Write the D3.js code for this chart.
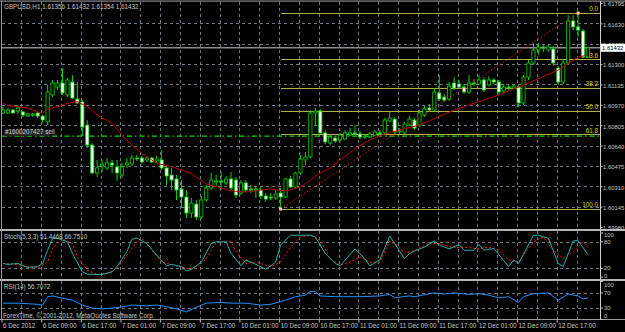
<!DOCTYPE html>
<html>
<head>
<meta charset="utf-8">
<script src="https://d3js.org/d3.v7.min.js"></script>
<style>
  body { margin: 0; background: #000; }
  svg { display: block; }
  text { font-family: "Liberation Sans", Arial, sans-serif; font-size: 6.3px; fill: #c8c8c8; }
  .axis text { font-size: 5.9px; }
</style>
</head>
<body>
<script>
// GBPUSD H1 bars, 6 Dec 01:00 .. 12 Dec 22:00
var opens = [1.60904,1.60904,1.60928,1.60920,1.60912,1.60879,1.60887,1.60904,1.60879,1.60831,
  1.61050,1.61114,1.61147,1.61050,1.61155,1.61017,1.60993,1.60806,1.60644,1.60418,
  1.60474,1.60458,1.60499,1.60466,1.60401,1.60482,1.60490,1.60539,1.60539,1.60523,
  1.60539,1.60515,1.60523,1.60458,1.60401,1.60369,1.60288,1.60223,1.60093,1.60166,
  1.60061,1.60199,1.60296,1.60345,1.60353,1.60337,1.60369,1.60361,1.60255,1.60337,
  1.60288,1.60280,1.60280,1.60231,1.60223,1.60215,1.60255,1.60223,1.60369,1.60304,
  1.60418,1.60523,1.60547,1.60904,1.60920,1.60742,1.60661,1.60701,1.60685,1.60693,
  1.60725,1.60742,1.60734,1.60709,1.60709,1.60725,1.60742,1.60742,1.60839,1.60855,
  1.60750,1.60742,1.60806,1.60847,1.60806,1.60887,1.60944,1.60928,1.61066,1.61033,
  1.61017,1.61147,1.61139,1.61114,1.61074,1.61147,1.61139,1.61171,1.61131,1.61171,
  1.61155,1.61082,1.61114,1.61106,1.61114,1.60985,1.61195,1.61309,1.61414,1.61438,
  1.61414,1.61422,1.61268,1.61155,1.61309,1.61649,1.61601,1.61568,1.61356];
var highs = [1.60952,1.60944,1.60936,1.60969,1.60920,1.60904,1.60904,1.60912,1.60887,1.61131,
  1.61171,1.61171,1.61268,1.61187,1.61212,1.61155,1.61009,1.60847,1.60661,1.60523,
  1.60523,1.60539,1.60523,1.60523,1.60499,1.60539,1.60563,1.60563,1.60555,1.60555,
  1.60547,1.60555,1.60604,1.60482,1.60458,1.60401,1.60361,1.60280,1.60215,1.60199,
  1.60231,1.60320,1.60418,1.60401,1.60426,1.60393,1.60426,1.60385,1.60361,1.60361,
  1.60320,1.60312,1.60312,1.60255,1.60255,1.60280,1.60296,1.60377,1.60393,1.60426,
  1.60563,1.60588,1.60928,1.60944,1.60936,1.60766,1.60725,1.60717,1.60742,1.60766,
  1.60782,1.60806,1.60758,1.60734,1.60750,1.60766,1.60766,1.60863,1.60912,1.60871,
  1.60782,1.60831,1.60879,1.60863,1.60928,1.60960,1.60977,1.61106,1.61212,1.61058,
  1.61155,1.61195,1.61171,1.61139,1.61212,1.61179,1.61212,1.61195,1.61203,1.61187,
  1.61171,1.61139,1.61139,1.61139,1.61131,1.61212,1.61333,1.61471,1.61471,1.61463,
  1.61463,1.61447,1.61285,1.61333,1.61698,1.61698,1.61714,1.61584,1.61432];
var lows = [1.60896,1.60896,1.60896,1.60896,1.60871,1.60871,1.60871,1.60863,1.60823,1.60806,
  1.61033,1.61090,1.61050,1.61033,1.61017,1.60977,1.60717,1.60620,1.60409,1.60385,
  1.60426,1.60442,1.60418,1.60353,1.60377,1.60458,1.60474,1.60515,1.60490,1.60507,
  1.60499,1.60499,1.60442,1.60320,1.60280,1.60199,1.60134,1.60053,1.60053,1.60037,
  1.60045,1.60183,1.60280,1.60312,1.60280,1.60320,1.60280,1.60215,1.60239,1.60263,
  1.60255,1.60215,1.60207,1.60183,1.60199,1.60199,1.60126,1.60215,1.60296,1.60288,
  1.60401,1.60482,1.60539,1.60806,1.60734,1.60653,1.60644,1.60661,1.60669,1.60685,
  1.60717,1.60725,1.60693,1.60693,1.60701,1.60717,1.60725,1.60734,1.60831,1.60734,
  1.60734,1.60734,1.60798,1.60766,1.60790,1.60871,1.60912,1.60912,1.61001,1.60993,
  1.61001,1.61090,1.61098,1.61058,1.61058,1.61122,1.61131,1.61074,1.61122,1.61139,
  1.61058,1.61066,1.61090,1.61098,1.60952,1.60969,1.61171,1.61293,1.61374,1.61398,
  1.61398,1.61285,1.61131,1.61139,1.61293,1.61576,1.61519,1.61349,1.61354];
var closes = [1.60928,1.60928,1.60904,1.60944,1.60887,1.60896,1.60896,1.60879,1.60847,1.61074,
  1.61147,1.61147,1.61066,1.61171,1.61025,1.60985,1.60790,1.60644,1.60418,1.60458,
  1.60490,1.60499,1.60482,1.60418,1.60466,1.60499,1.60539,1.60531,1.60507,1.60539,
  1.60507,1.60531,1.60458,1.60393,1.60361,1.60280,1.60223,1.60093,1.60174,1.60061,
  1.60199,1.60296,1.60361,1.60353,1.60345,1.60369,1.60296,1.60239,1.60337,1.60280,
  1.60280,1.60288,1.60231,1.60207,1.60215,1.60247,1.60223,1.60369,1.60304,1.60418,
  1.60531,1.60547,1.60904,1.60920,1.60742,1.60669,1.60709,1.60677,1.60725,1.60742,
  1.60742,1.60734,1.60709,1.60717,1.60734,1.60750,1.60734,1.60847,1.60863,1.60750,
  1.60758,1.60815,1.60855,1.60782,1.60904,1.60936,1.60928,1.61074,1.61017,1.61009,
  1.61122,1.61106,1.61114,1.61074,1.61147,1.61139,1.61171,1.61090,1.61171,1.61155,
  1.61074,1.61114,1.61106,1.61122,1.60985,1.61195,1.61309,1.61414,1.61438,1.61430,
  1.61438,1.61309,1.61155,1.61309,1.61649,1.61601,1.61576,1.61357,1.61432];

// moving average, read at some bars
var maBars = [0,1,3,5,7,8,9,11,13,15,17,19,22,24,26,28,31,34,38,41,44,46,49,52,54,57,60,62,64,66,68,71,74,77,80,84,91,100,106,112,116,118];
var maValues = [1.60982,1.60963,1.60955,1.60942,1.60914,1.60901,1.60934,1.60955,1.60982,1.60995,
  1.60955,1.60888,1.60820,1.60725,1.60644,1.60577,1.60496,1.60469,1.60415,1.60328,
  1.60296,1.60272,1.60263,1.60280,1.60288,1.60272,1.60304,1.60361,1.60418,1.60458,
  1.60523,1.60612,1.60685,1.60734,1.60766,1.60806,1.60928,1.61050,1.61147,1.61252,
  1.61357,1.61374];

// Stochastic (5,3,3)
var stochMainBars = [0,1,3,5,7,8,9,10,11,13,14,16,17,20,22,23,25,26,27,29,31,33,34,36,37,38,40,42,43,45,
  46,48,49,51,53,55,56,58,60,62,63,65,67,68,71,73,74,76,78,79,81,82,84,85,87,88,90,92,93,95,
  96,97,99,102,103,104,107,108,110,112,113,115,116,118];
var stochMainValues = [31,29,31,22,24,31,61,88,88,80,54,12,7,6,12,24,58,86,89,76,50,26,29,24,14,18,34,76,80,80,
  54,26,39,29,18,34,73,95,95,95,91,54,31,26,64,42,26,39,93,76,42,54,64,68,82,73,64,74,61,61,
  74,61,65,24,39,31,95,95,88,31,24,82,83,51];
var stochSignalBars = [0,2,5,7,9,10,12,14,15,17,19,21,23,25,27,28,30,32,35,37,39,41,43,46,47,49,51,54,56,58,
  60,62,64,66,68,70,72,74,76,78,80,81,83,86,88,91,93,96,98,100,102,104,107,109,111,113,115,117,118];
var stochSignalValues = [31,30,24,21,34,65,86,76,46,16,6,9,20,50,80,88,61,34,26,20,20,42,80,80,58,31,34,24,34,68,
  91,95,83,42,27,34,46,34,34,82,68,54,61,76,76,67,68,64,68,61,39,34,80,91,61,42,58,80,67];

// RSI(14)
var rsiBars = [0,3,7,8,9,10,12,14,16,18,20,22,24,26,29,31,33,35,37,39,41,44,46,49,52,54,56,57,59,61,
  62,63,64,67,72,76,78,79,82,83,87,89,91,94,96,98,100,102,104,105,107,110,112,114,116,117,118];
var rsiValues = [43,43,40,38,60,62,56,51,38,30,28,30,33,38,36,38,34,28,20,32,43,45,43,43,38,40,47,51,60,64,
  74,73,62,60,60,62,66,57,62,60,70,67,70,66,68,64,57,60,45,60,68,70,51,67,62,54,57];

var priceTicks = [1.61795,1.61630,1.61465,1.61300,1.61135,1.60970,1.60805,1.60640,1.60475,1.60310,1.60145,1.59980];
var timeLabels = ["6 Dec 2012","6 Dec 09:00","6 Dec 17:00","7 Dec 01:00","7 Dec 09:00","7 Dec 17:00",
  "10 Dec 01:00","10 Dec 09:00","10 Dec 17:00","11 Dec 01:00","11 Dec 09:00","11 Dec 17:00",
  "12 Dec 01:00","12 Dec 09:00","12 Dec 17:00"];
var timeLabelBars = [0,8,16,24,32,40,48,56,64,72,80,88,96,104,112];

var fibLevels = [0.0, 23.6, 38.2, 50.0, 61.8, 100.0];
var fibHigh = 1.61714, fibHighBar = 116;
var fibLow = 1.60126, fibLowBar = 56;
var bidPrice = 1.61432;
var orderPrice = 1.60717, orderLabel = "#1600207427 sell";
var stochLevels = [100, 80, 20, 0], rsiLevels = [100, 70, 30, 0];

var W = 625, H = 332, plotL = 2, plotR = 600;
var mainP = {top: 2, bottom: 228.5}, stochP = {top: 231, bottom: 278.5}, rsiP = {top: 281, bottom: 319};

var svg = d3.select("body").append("svg")
    .attr("width", W)
    .attr("height", H);
svg.append("rect").attr("width", W).attr("height", H).attr("fill", "#000");

var x = d3.scaleLinear().domain([0, 118]).range([3, 588]);
var y = d3.scaleLinear().domain([1.59980, 1.61795]).range([227, 3]);
var yStoch = d3.scaleLinear().domain([0, 100]).range([277.2, 233]);
var yRsi = d3.scaleLinear().domain([0, 100]).range([319.5, 281.5]);

var defs = svg.append("defs");
[["clipMain", mainP], ["clipStoch", stochP], ["clipRsi", rsiP]].forEach(function(c) {
    defs.append("clipPath").attr("id", c[0]).append("rect")
        .attr("x", plotL).attr("y", c[1].top)
        .attr("width", plotR - plotL).attr("height", c[1].bottom - c[1].top);
});

var gridColor = "#6a7886";
var px = function(v) { return Math.round(v) + 0.5; };

// vertical grid in all three panels
var gridBars = d3.range(4, 118, 4);
[mainP, stochP, rsiP].forEach(function(p) {
    svg.append("g").selectAll("line")
        .data(gridBars).enter().append("line")
            .attr("x1", d => px(x(d) - 1.5)).attr("x2", d => px(x(d) - 1.5))
            .attr("y1", p.top).attr("y2", p.bottom)
            .attr("stroke", gridColor).attr("stroke-dasharray", "3,3")
            .attr("shape-rendering", "crispEdges");
});

// horizontal grid, main panel
svg.append("g").selectAll("line")
    .data(priceTicks.slice(1, -1)).enter().append("line")
        .attr("x1", plotL).attr("x2", plotR)
        .attr("y1", d => px(y(d))).attr("y2", d => px(y(d)))
        .attr("stroke", gridColor).attr("stroke-dasharray", "3,3")
        .attr("shape-rendering", "crispEdges");

// level lines in indicator panels
svg.append("g").selectAll("line")
    .data([80, 20]).enter().append("line")
        .attr("x1", plotL).attr("x2", plotR)
        .attr("y1", d => px(yStoch(d))).attr("y2", d => px(yStoch(d)))
        .attr("stroke", gridColor).attr("stroke-dasharray", "3,3")
        .attr("shape-rendering", "crispEdges");
svg.append("g").selectAll("line")
    .data([70, 30]).enter().append("line")
        .attr("x1", plotL).attr("x2", plotR)
        .attr("y1", d => px(yRsi(d))).attr("y2", d => px(yRsi(d)))
        .attr("stroke", gridColor).attr("stroke-dasharray", "3,3")
        .attr("shape-rendering", "crispEdges");

var mainG = svg.append("g").attr("clip-path", "url(#clipMain)");

// fibonacci levels
var fibG = mainG.append("g");
fibLevels.forEach(function(l) {
    var p = fibHigh - l / 100 * (fibHigh - fibLow);
    fibG.append("line")
        .attr("x1", x(fibLowBar)).attr("x2", plotR)
        .attr("y1", px(y(p))).attr("y2", px(y(p)))
        .attr("stroke", "#b0b044").attr("stroke-width", 1)
        .attr("shape-rendering", "crispEdges");
    fibG.append("text")
        .attr("x", plotR - 2).attr("y", y(p) - 1.6)
        .attr("text-anchor", "end")
        .style("fill", "#d8d800")
        .text(l.toFixed(1));
});

// bid line
mainG.append("line")
    .attr("x1", plotL).attr("x2", plotR)
    .attr("y1", y(bidPrice)).attr("y2", y(bidPrice))
    .attr("stroke", "#8a8a8a").attr("stroke-width", 1.4);

// order line
mainG.append("line")
    .attr("x1", plotL).attr("x2", plotR)
    .attr("y1", y(orderPrice)).attr("y2", y(orderPrice))
    .attr("stroke", "#00e000").attr("stroke-width", 1.3)
    .attr("stroke-dasharray", "5,3,1.5,3");
mainG.append("rect")
    .attr("x", 4).attr("y", y(orderPrice) - 6.5)
    .attr("width", 46).attr("height", 6.5)
    .attr("fill", "#262626");
mainG.append("text")
    .attr("x", 5).attr("y", y(orderPrice) - 1.6)
    .style("fill", "#d0d0d0")
    .text(orderLabel);

// candles
var bars = d3.range(opens.length).map(function(i) {
    return {i: i, o: opens[i], h: highs[i], l: lows[i], c: closes[i]};
});
var candle = mainG.append("g").selectAll("g")
    .data(bars).enter().append("g");
candle.append("line")
    .attr("x1", d => x(d.i)).attr("x2", d => x(d.i))
    .attr("y1", d => y(d.h)).attr("y2", d => y(d.l))
    .attr("stroke", "#00d400").attr("stroke-width", 1);
candle.append("rect")
    .attr("x", d => x(d.i) - 1.6)
    .attr("width", 3.2)
    .attr("y", d => y(Math.max(d.o, d.c)))
    .attr("height", d => Math.max(Math.abs(y(d.o) - y(d.c)), 0.6))
    .attr("fill", d => d.c < d.o ? "#ffffff" : "#000000")
    .attr("stroke", "#00d400").attr("stroke-width", 0.8);

// moving average
var maData = maBars.map((b, k) => [b, maValues[k]]);
mainG.append("path")
    .datum(maData)
    .attr("fill", "none")
    .attr("stroke", "#b80000").attr("stroke-width", 1)
    .attr("d", d3.line().x(d => x(d[0])).y(d => y(d[1])));

// fibonacci trend line + anchors
mainG.append("line")
    .attr("x1", x(fibLowBar)).attr("y1", y(fibLow))
    .attr("x2", x(fibHighBar)).attr("y2", y(fibHigh))
    .attr("stroke", "#d01818").attr("stroke-dasharray", "1.5,2");
mainG.selectAll(".anchor")
    .data([[fibLowBar, fibLow], [fibHighBar, fibHigh]]).enter().append("rect")
        .attr("class", "anchor")
        .attr("x", d => x(d[0]) - 1.5).attr("y", d => y(d[1]) - 1.5)
        .attr("width", 3).attr("height", 3)
        .attr("fill", "#ffd0b0");

// stochastic
var stochG = svg.append("g").attr("clip-path", "url(#clipStoch)");
stochG.append("path")
    .datum(stochSignalBars.map((b, k) => [b, stochSignalValues[k]]))
    .attr("fill", "none").attr("stroke", "#ff1a1a")
    .attr("stroke-dasharray", "2,2")
    .attr("d", d3.line().x(d => x(d[0])).y(d => yStoch(d[1])));
stochG.append("path")
    .datum(stochMainBars.map((b, k) => [b, stochMainValues[k]]))
    .attr("fill", "none").attr("stroke", "#20b2aa")
    .attr("d", d3.line().x(d => x(d[0])).y(d => yStoch(d[1])));

// rsi
var rsiG = svg.append("g").attr("clip-path", "url(#clipRsi)");
rsiG.append("path")
    .datum(rsiBars.map((b, k) => [b, rsiValues[k]]))
    .attr("fill", "none").attr("stroke", "#1e90ff")
    .attr("d", d3.line().x(d => x(d[0])).y(d => yRsi(d[1])));

// frame and panel separators
svg.append("rect").attr("x", 0).attr("y", 0.5).attr("width", W).attr("height", 1.2).attr("fill", "#8c8c8c");
svg.append("rect").attr("x", 0).attr("y", 229).attr("width", W).attr("height", 2).attr("fill", "#b4b4b4");
svg.append("rect").attr("x", 0).attr("y", 279).attr("width", W).attr("height", 2).attr("fill", "#b4b4b4");
svg.append("line").attr("x1", 0).attr("x2", W).attr("y1", 319.5).attr("y2", 319.5).attr("stroke", "#9a9a9a");
svg.append("line").attr("x1", 1.5).attr("x2", 1.5).attr("y1", 1).attr("y2", 319.5).attr("stroke", "#9a9a9a");
svg.append("line").attr("x1", plotR + 0.5).attr("x2", plotR + 0.5).attr("y1", 1).attr("y2", 319.5).attr("stroke", "#d0d0d0");

// price axis
var priceAxis = svg.append("g")
    .attr("class", "axis")
    .attr("transform", "translate(" + (plotR + 0.5) + ",0)")
    .call(d3.axisRight(y).tickValues(priceTicks).tickFormat(d3.format(".5f")).tickSize(2).tickPadding(0.5));
priceAxis.select(".domain").remove();
priceAxis.selectAll("line").attr("stroke", "#c0c0c0");
priceAxis.selectAll("text").attr("y", 1).style("font-family", null).attr("font-size", null);

// bid box
svg.append("rect")
    .attr("x", plotR + 1).attr("y", y(bidPrice) - 4)
    .attr("width", 24).attr("height", 8)
    .attr("fill", "#ffffff");
svg.append("text")
    .attr("class", "axis")
    .attr("x", plotR + 2).attr("y", y(bidPrice) + 2.2)
    .style("fill", "#000").style("font-size", "5.9px")
    .text(d3.format(".5f")(bidPrice));

// indicator level labels
function levelLabels(levels, scale, p) {
    var g = svg.append("g").attr("class", "axis");
    g.selectAll("line").data(levels).enter().append("line")
        .attr("x1", plotR + 0.5).attr("x2", plotR + 3)
        .attr("y1", d => scale(d)).attr("y2", d => scale(d))
        .attr("stroke", "#c0c0c0");
    g.selectAll("text").data(levels).enter().append("text")
        .attr("x", plotR + 4)
        .attr("y", d => Math.min(Math.max(scale(d), p.top + 3.5), p.bottom - 3) + 2.1)
        .text(d => d);
}
levelLabels(stochLevels, yStoch, stochP);
levelLabels(rsiLevels, yRsi, rsiP);

// time axis
var timeAxis = svg.append("g")
    .attr("transform", "translate(-1.5," + 319.5 + ")")
    .call(d3.axisBottom(x).tickValues(timeLabelBars)
        .tickFormat((d, k) => timeLabels[k]).tickSize(3));
timeAxis.select(".domain").remove();
timeAxis.selectAll("line").attr("stroke", "#c0c0c0");
timeAxis.selectAll("text")
    .attr("text-anchor", "start").attr("x", 1).attr("y", 4.5)
    .style("font-family", null).attr("font-size", null);

// captions
svg.append("text").attr("x", 4).attr("y", 8.5)
    .text("GBPUSD,H1  1.61356 1.61432 1.61354 1.61432");
svg.append("text").attr("x", 4).attr("y", 238.8)
    .text("Stoch(5,3,3) 51.4468 66.7510");
svg.append("text").attr("x", 4).attr("y", 288.5)
    .text("RSI(14) 56.7072");
svg.append("text").attr("x", 3).attr("y", 318)
    .text("ForexTime, \u00a9 2001-2012, MetaQuotes Software Corp.");
</script>
</body>
</html>
